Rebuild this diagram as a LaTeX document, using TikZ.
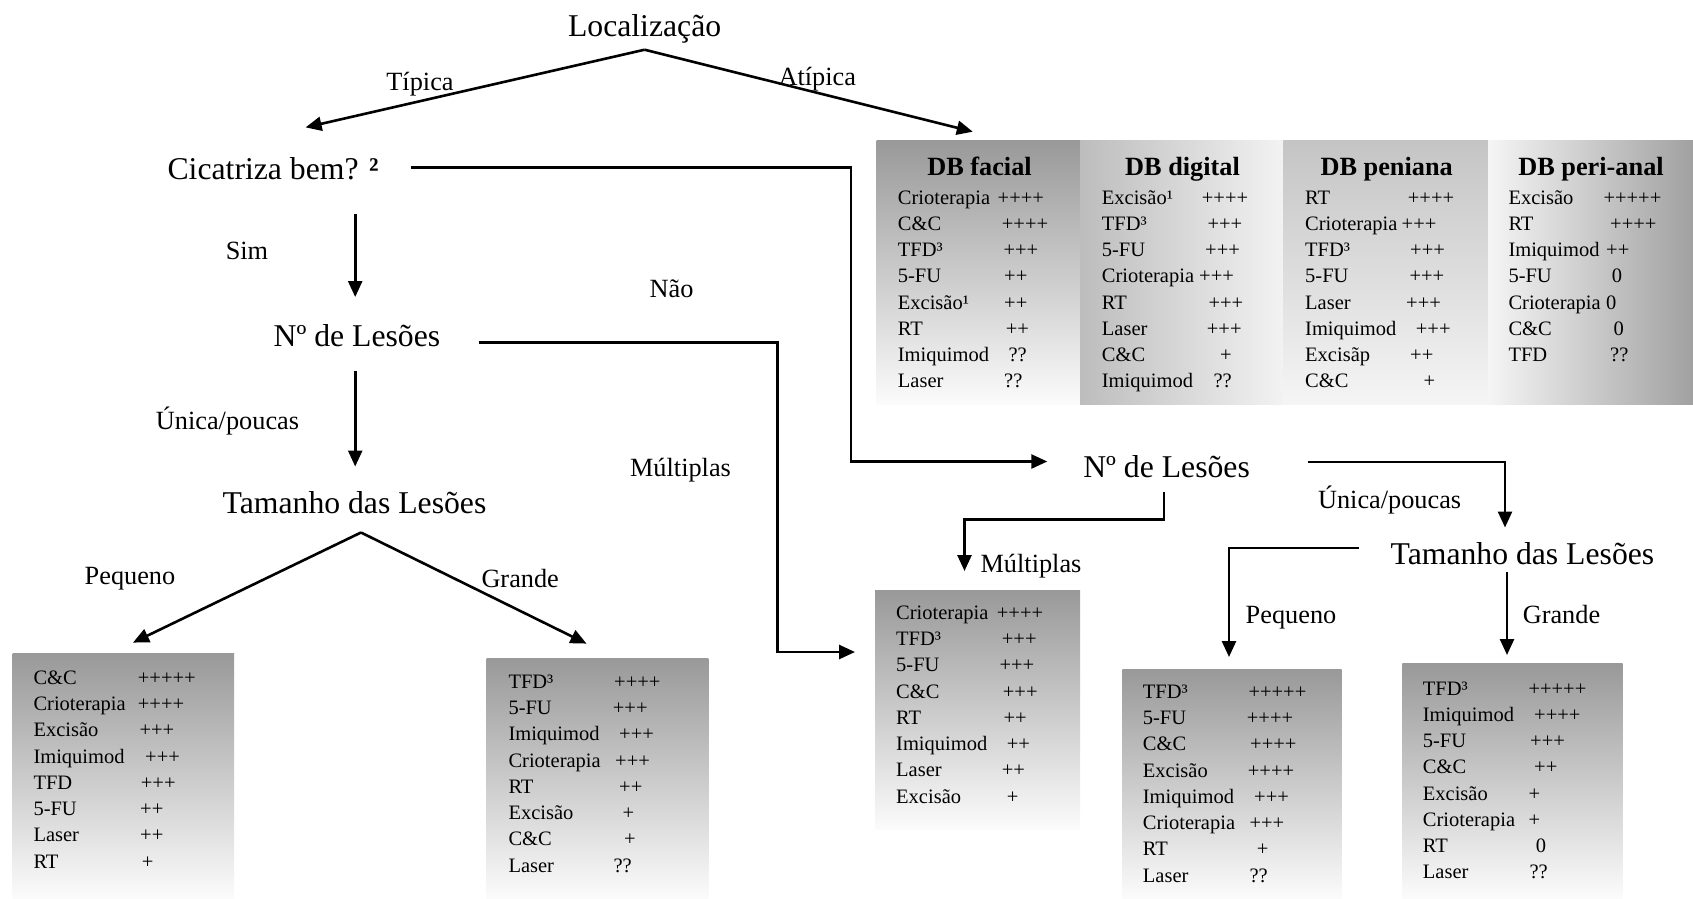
\documentclass[tikz,border=0pt]{standalone}
\usepackage{fontspec}
\setmainfont{Liberation Serif}
\usetikzlibrary{arrows.meta}

\definecolor{boxgray}{gray}{0.6}
\definecolor{fadewhite}{gray}{0.985}
\definecolor{digL}{gray}{0.74}
\definecolor{digR}{gray}{0.95}
\definecolor{penT}{gray}{0.77}
\definecolor{penB}{gray}{0.96}
\definecolor{anaL}{gray}{0.96}
\definecolor{anaR}{gray}{0.63}

% one treatment table: prefix, x of names, first baseline, list name/value/x of value
\newcommand\treatlist[4]{%
  \foreach \n/\v/\vx [count=\i] in {#4}{%
    \node[cell] (#1n\i) at (#2,{#3+(\i-1)*26.25}) {\n};
    \node[cell] (#1v\i) at (\vx,{#3+(\i-1)*26.25}) {\v};
  }}

\begin{document}
\begin{tikzpicture}[x=1pt,y=-1pt,
  big/.style={font=\fontsize{31.7}{36}\selectfont, inner sep=0pt, anchor=base},
  mid/.style={font=\fontsize{26.3}{30}\selectfont, inner sep=0pt, anchor=base},
  head/.style={font=\fontsize{26.3}{30}\selectfont\bfseries, inner sep=0pt, anchor=base},
  cell/.style={font=\fontsize{20.5}{24}\selectfont, inner sep=0pt, anchor=base west},
  link/.style={line width=2.6pt, line join=miter},
  arr/.style={link, -{Triangle[length=16pt,width=14pt]}},
]
\useasboundingbox (0,0) rectangle (1693,898);

% ---------- shaded panels ----------
\shade[top color=boxgray, bottom color=fadewhite] (876.7,140.4) rectangle (1080,404);
\shade[left color=digL, right color=digR] (1080,140.4) rectangle (1283.3,404);
\shade[top color=penT, bottom color=penB] (1283.3,140.4) rectangle (1488.3,404);
\shade[left color=anaL, right color=anaR] (1488.3,140.4) rectangle (1693,404);

\shade[top color=boxgray, bottom color=fadewhite] (12.7,653.3) rectangle (234,898);
\shade[top color=boxgray, bottom color=fadewhite] (486.7,658.3) rectangle (708.3,898);
\shade[top color=boxgray, bottom color=fadewhite] (875,590) rectangle (1080,829);
\shade[top color=boxgray, bottom color=fadewhite] (1122.3,669.3) rectangle (1341.7,898);
\shade[top color=boxgray, bottom color=fadewhite] (1402.3,663.3) rectangle (1622.7,898);

% ---------- decision nodes ----------
\node[big] (loc) at (644.6,36) {Localização};
\node[big, anchor=base west] (cic) at (167.4,179) {Cicatriza bem? {\bfseries ²}};
\node[big] (nlL) at (356.9,346.6) {Nº de Lesões};
\node[big] (tamL) at (354.5,513) {Tamanho das Lesões};
\node[big] (nlR) at (1166.6,477) {Nº de Lesões};
\node[big] (tamR) at (1522.4,564.5) {Tamanho das Lesões};

% ---------- branch labels ----------
\node[mid] (lTip) at (420,90.7) {Típica};
\node[mid] (lAtip) at (817.3,85.3) {Atípica};
\node[mid] (lSim) at (247,259) {Sim};
\node[mid] (lNao) at (671.6,297) {Não};
\node[mid] (lUnL) at (227.5,429) {Única/poucas};
\node[mid] (lMulL) at (680.5,476.2) {Múltiplas};
\node[mid] (lPeqL) at (130,584) {Pequeno};
\node[mid] (lGraL) at (520.2,587) {Grande};
\node[mid] (lUnR) at (1389.6,508.5) {Única/poucas};
\node[mid, anchor=base west] (lMulR) at (980.4,572) {Múltiplas};
\node[mid] (lPeqR) at (1291,623.5) {Pequeno};
\node[mid] (lGraR) at (1561.5,623.5) {Grande};

% ---------- connectors ----------
\coordinate (locFoot) at (644.6,49.7);
\coordinate (cicIn) at (305.6,127.4);
\coordinate (dbIn) at (972.8,131.7);
\draw[arr] (locFoot) -- (cicIn);
\draw[arr] (locFoot) -- (dbIn);

\coordinate (cicOut) at (411.4,167.4);
\coordinate (cicBend) at (850.8,167.4);
\coordinate (nlRIn) at (1047.3,461.5);
\draw[arr] (cicOut) -- (cicBend) |- (nlRIn);

\coordinate (simTop) at (355.2,214);
\coordinate (nlLIn) at (355.2,297);
\draw[arr] (simTop) -- (nlLIn);

\coordinate (nlLOut) at (479.4,342.3);
\coordinate (nlLBend) at (777.4,342.3);
\coordinate (boxCIn) at (855,652);
\draw[arr] (nlLOut) -- (nlLBend) |- (boxCIn);

\coordinate (unLTop) at (355.2,370.5);
\coordinate (tamLIn) at (355.2,466.5);
\draw[arr] (unLTop) -- (tamLIn);

\coordinate (tamLFoot) at (361,532.5);
\coordinate (boxAIn) at (133,642.6);
\coordinate (boxBIn) at (586.5,643.6);
\draw[arr] (tamLFoot) -- (boxAIn);
\draw[arr] (tamLFoot) -- (boxBIn);

\coordinate (nlROut) at (1307.5,462);
\coordinate (nlRBend) at (1505,462);
\coordinate (tamRIn) at (1505,527.5);
\draw[arr] (nlROut) -- (nlRBend) -- (tamRIn);

\coordinate (nlRFoot) at (1164,492.3);
\coordinate (nlRBend2) at (1164,519.3);
\coordinate (boxCTop) at (964.5,571);
\draw[arr] (nlRFoot) -- (nlRBend2) -| (boxCTop);

\coordinate (tamROut) at (1359.4,548);
\coordinate (boxDIn) at (1229,657);
\draw[arr] (tamROut) -| (boxDIn);

\coordinate (tamRFoot) at (1507,572);
\coordinate (boxEIn) at (1507,655);
\draw[arr] (tamRFoot) -- (boxEIn);

% ---------- atypical location tables ----------
\node[head] (hFac) at (979.5,175.7) {DB facial};
\node[head] (hDig) at (1182.5,175.7) {DB digital};
\node[head] (hPen) at (1386.7,175.7) {DB peniana};
\node[head] (hAna) at (1591,175.7) {DB peri-anal};

\treatlist{fa}{897.7}{204}{Crioterapia/++++/997.5, C\&C/++++/1001.7, TFD³/+++/1003.3,
  5-FU/++/1004, Excisão¹/++/1004, RT/++/1005.7, Imiquimod/??/1008.3, Laser/??/1004}
\treatlist{di}{1101.7}{204}{Excisão¹/++++/1201.7, TFD³/+++/1207.3, 5-FU/+++/1205,
  Crioterapia/+++/1199, RT/+++/1208.3, Laser/+++/1206.7, C\&C/+/1220, Imiquimod/??/1213.3}
\treatlist{pe}{1305}{204}{RT/++++/1407.7, Crioterapia/+++/1401.5, TFD³/+++/1410,
  5-FU/+++/1409.3, Laser/+++/1406, Imiquimod/+++/1415.7, Excisãp/++/1410, C\&C/+/1423.3}
\treatlist{pa}{1508.3}{204}{Excisão/+++++/1603.3, RT/++++/1610, Imiquimod/++/1606,
  5-FU/0/1611.7, Crioterapia/0/1606, C\&C/0/1613.3, TFD/??/1610}

% ---------- typical location tables ----------
\treatlist{ba}{33.3}{684.3}{C\&C/+++++/137.7, Crioterapia/++++/137.7, Excisão/+++/139.3,
  Imiquimod/+++/145, TFD/+++/140.7, 5-FU/++/140, Laser/++/140, RT/+/141.7}
\treatlist{bb}{508.3}{688.3}{TFD³/++++/614, 5-FU/+++/612.7, Imiquimod/+++/619,
  Crioterapia/+++/615, RT/++/619, Excisão/+/622.3, C\&C/+/624, Laser/??/613.3}
\treatlist{bc}{896}{619.3}{Crioterapia/++++/996.7, TFD³/+++/1001.7, 5-FU/+++/999.3,
  C\&C/+++/1002.7, RT/++/1003.3, Imiquimod/++/1006.7, Laser/++/1001.7, Excisão/+/1006.7}
\treatlist{bd}{1142.7}{698.3}{TFD³/+++++/1248.3, 5-FU/++++/1246.7, C\&C/++++/1250,
  Excisão/++++/1247.7, Imiquimod/+++/1254, Crioterapia/+++/1249.3, RT/+/1256.7, Laser/??/1249.3}
\treatlist{be}{1422.7}{695}{TFD³/+++++/1528.3, Imiquimod/++++/1534, 5-FU/+++/1530,
  C\&C/++/1534, Excisão/+/1528.3, Crioterapia/+/1528.3, RT/0/1535.7, Laser/??/1529.3}
\end{tikzpicture}
\end{document}
